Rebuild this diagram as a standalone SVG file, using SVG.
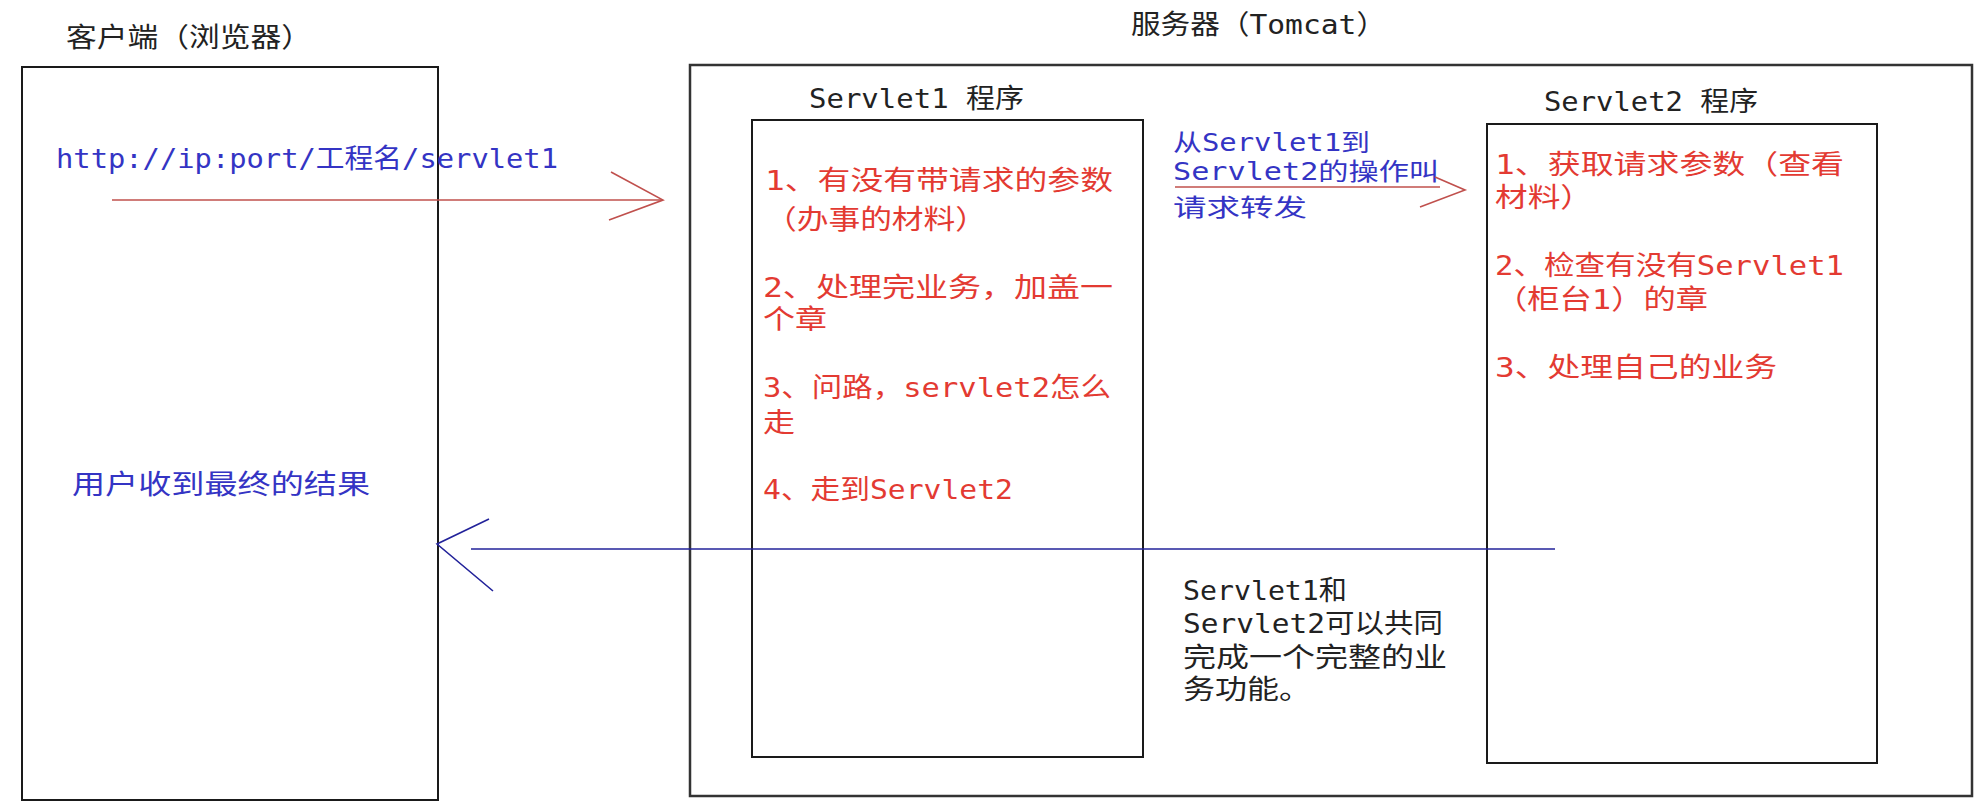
<svg xmlns="http://www.w3.org/2000/svg" width="1978" height="812" viewBox="0 0 1978 812">
<style>
.t { font-family: "DejaVu Sans Mono", "Noto Sans CJK SC", monospace; font-size: 27px; }
.s { font-size: 24px; }
.red { fill: #e33a32; }
.blue { fill: #3434c4; }
.blk { fill: #222222; }
.box { fill: none; stroke: #1a1a1a; stroke-width: 2; }
.frame { fill: none; stroke: #333333; stroke-width: 2.5; }
.ar { fill: none; stroke: #c0504d; stroke-width: 1.6; }
.ab { fill: none; stroke: #22229a; stroke-width: 1.6; }
</style>
<rect width="1978" height="812" fill="#ffffff"/>

<g id="client">
  <rect class="box" x="22" y="67" width="416" height="733"/>
  <text class="t blk" x="66" y="47" textLength="246" lengthAdjust="spacingAndGlyphs">客户端（浏览器）</text>
  <text class="t blue" x="56" y="168" textLength="502" lengthAdjust="spacingAndGlyphs">http://ip:port/工程名/servlet1</text>
  <text class="t blue" x="72" y="494" textLength="298" lengthAdjust="spacingAndGlyphs">用户收到最终的结果</text>
</g>

<g id="server">
  <rect class="frame" x="690" y="65" width="1282" height="731"/>
  <text class="t blk" x="1131" y="34" textLength="255" lengthAdjust="spacingAndGlyphs">服务器（Tomcat）</text>
</g>

<g id="servlet1">
  <rect class="box" x="752" y="120" width="391" height="637"/>
  <text class="t blk" x="809" y="108" textLength="215" lengthAdjust="spacingAndGlyphs">Servlet1 程序</text>
  <text class="t red" x="765" y="190" textLength="348" lengthAdjust="spacingAndGlyphs">1、有没有带请求的参数</text>
  <text class="t red" x="765" y="229" textLength="222" lengthAdjust="spacingAndGlyphs">（办事的材料）</text>
  <text class="t red" x="763" y="297" textLength="350" lengthAdjust="spacingAndGlyphs">2、处理完业务，加盖一</text>
  <text class="t red" x="763" y="329" textLength="64" lengthAdjust="spacingAndGlyphs">个章</text>
  <text class="t red" x="763" y="397" textLength="348" lengthAdjust="spacingAndGlyphs">3、问路，servlet2怎么</text>
  <text class="t red" x="763" y="432" textLength="32" lengthAdjust="spacingAndGlyphs">走</text>
  <text class="t red" x="763" y="499" textLength="250" lengthAdjust="spacingAndGlyphs">4、走到Servlet2</text>
</g>

<g id="servlet2">
  <rect class="box" x="1487" y="124" width="390" height="639"/>
  <text class="t blk" x="1544" y="111" textLength="214" lengthAdjust="spacingAndGlyphs">Servlet2 程序</text>
  <text class="t red" x="1495" y="174" textLength="349" lengthAdjust="spacingAndGlyphs">1、获取请求参数（查看</text>
  <text class="t red" x="1495" y="207" textLength="98" lengthAdjust="spacingAndGlyphs">材料）</text>
  <text class="t red" x="1495" y="275" textLength="349" lengthAdjust="spacingAndGlyphs">2、检查有没有Servlet1</text>
  <text class="t red" x="1495" y="309" textLength="213" lengthAdjust="spacingAndGlyphs">（柜台1）的章</text>
  <text class="t red" x="1495" y="377" textLength="282" lengthAdjust="spacingAndGlyphs">3、处理自己的业务</text>
</g>

<g id="forward-note">
  <text class="t s blue" x="1173" y="151" textLength="197" lengthAdjust="spacingAndGlyphs">从Servlet1到</text>
  <text class="t s blue" x="1173" y="180" textLength="266" lengthAdjust="spacingAndGlyphs">Servlet2的操作叫</text>
  <text class="t s blue" x="1173" y="216" textLength="134" lengthAdjust="spacingAndGlyphs">请求转发</text>
</g>

<g id="summary-note">
  <text class="t blk" x="1183" y="600" textLength="164" lengthAdjust="spacingAndGlyphs">Servlet1和</text>
  <text class="t blk" x="1183" y="633" textLength="260" lengthAdjust="spacingAndGlyphs">Servlet2可以共同</text>
  <text class="t blk" x="1183" y="667" textLength="264" lengthAdjust="spacingAndGlyphs">完成一个完整的业</text>
  <text class="t blk" x="1183" y="699" textLength="128" lengthAdjust="spacingAndGlyphs">务功能。</text>
</g>

<g id="connectors">
  <line class="ar" x1="112" y1="200" x2="662" y2="200"/>
  <polyline class="ar" points="611,172 663,200 609,220"/>
  <line class="ar" x1="1175" y1="187" x2="1440" y2="187"/>
  <polyline class="ar" points="1435,177 1465,190 1420,207"/>
  <line class="ab" x1="1555" y1="549" x2="471" y2="549"/>
  <polyline class="ab" points="489,519 437,544 493,591"/>
</g>
</svg>
